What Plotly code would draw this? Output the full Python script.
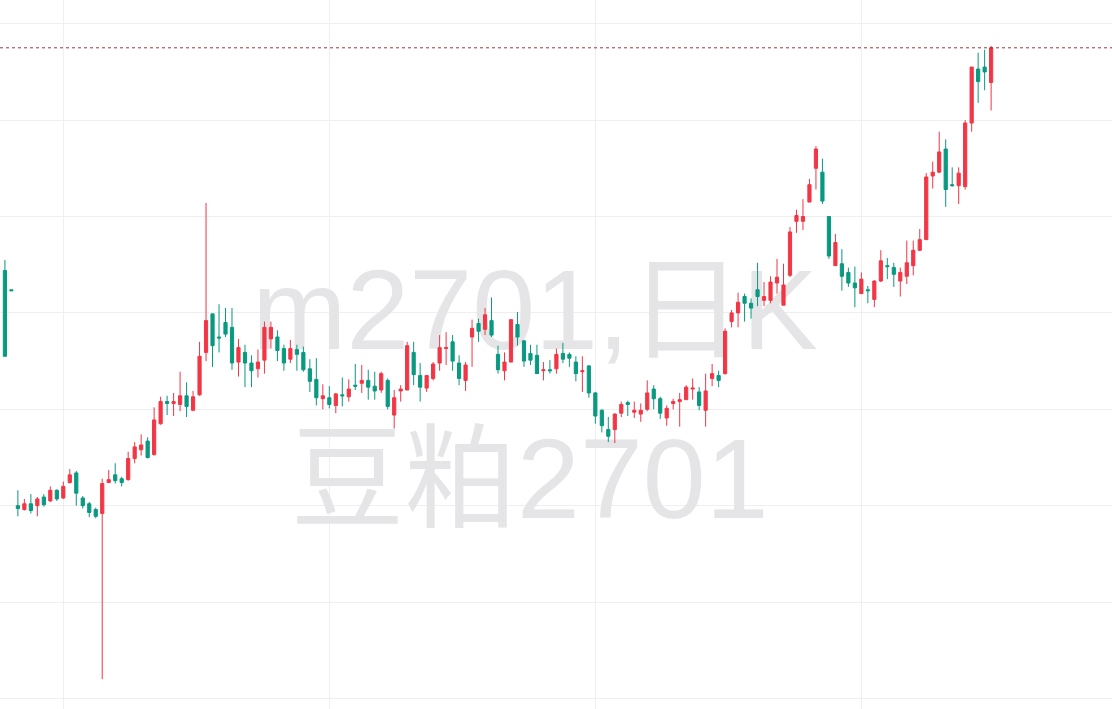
import plotly.graph_objects as go

# ---- data (daily K-line of 豆粕2701) ----
open_ = [3144, 3124, 2900, 2896, 2902, 2900, 2909, 2905, 2916, 2908,
         2924, 2934, 2908, 2902, 2896, 2892, 2924, 2932, 2928, 2927,
         2949, 2958, 2967, 2953, 2985, 3008, 3006, 3005, 3014, 2999,
         3015, 3059, 3099, 3075, 3090, 3085, 3049, 3059, 3048, 3042,
         3051, 3073, 3075, 3063, 3052, 3062, 3059, 3042, 3031, 3011,
         3012, 3004, 3015, 3013, 3025, 3027, 3030, 3024, 3020, 3030,
         2994, 3019, 3020, 3059, 3035, 3022, 3032, 3048, 3063, 3070,
         3048, 3030, 3075, 3089, 3083, 3092, 3057, 3040, 3049, 3088,
         3071, 3058, 3056, 3040, 3041, 3042, 3058, 3057, 3049, 3039,
         3045, 3017, 2999, 2979, 2979, 2996, 3007, 2997, 2995, 3000,
         3021, 3011, 2991, 3006, 3008, 3010, 3021, 3018, 2999, 3032,
         3035, 3037, 3091, 3100, 3117, 3110, 3124, 3113, 3113, 3131,
         3108, 3139, 3195, 3195, 3215, 3250, 3246, 3200, 3149, 3151,
         3142, 3131, 3120, 3124, 3114, 3133, 3149, 3147, 3133, 3138,
         3149, 3165, 3176, 3242, 3246, 3270, 3233, 3232, 3231, 3297,
         3353, 3355, 3339]
high = [3155, 3124, 2916, 2907, 2912, 2909, 2912, 2920, 2917, 2925,
        2938, 2936, 2910, 2904, 2898, 2928, 2937, 2944, 2930, 2956,
        2966, 2974, 2971, 3002, 3013, 3014, 3017, 3039, 3028, 3019,
        3070, 3214, 3099, 3109, 3105, 3105, 3073, 3067, 3056, 3062,
        3091, 3091, 3082, 3067, 3072, 3067, 3065, 3052, 3053, 3026,
        3024, 3017, 3033, 3031, 3047, 3046, 3041, 3039, 3039, 3032,
        3020, 3025, 3070, 3070, 3048, 3035, 3049, 3077, 3080, 3077,
        3056, 3049, 3093, 3094, 3105, 3116, 3066, 3059, 3093, 3101,
        3072, 3067, 3067, 3049, 3051, 3063, 3069, 3059, 3055, 3055,
        3046, 3018, 3000, 2992, 2996, 3008, 3009, 3008, 3006, 3030,
        3025, 3013, 3004, 3011, 3017, 3025, 3032, 3023, 3037, 3047,
        3040, 3084, 3103, 3121, 3120, 3115, 3152, 3132, 3138, 3156,
        3151, 3189, 3207, 3218, 3239, 3273, 3260, 3200, 3182, 3166,
        3147, 3148, 3142, 3128, 3134, 3165, 3157, 3152, 3147, 3175,
        3175, 3187, 3245, 3257, 3288, 3280, 3251, 3251, 3300, 3355,
        3370, 3373, 3377]
low = [3055, 3123, 2889, 2895, 2892, 2889, 2899, 2904, 2905, 2907,
       2923, 2900, 2897, 2888, 2887, 2720, 2924, 2923, 2920, 2926,
       2944, 2952, 2949, 2952, 2984, 2994, 2993, 2998, 2992, 2998,
       3014, 3050, 3044, 3059, 3075, 3041, 3034, 3023, 3023, 3033,
       3037, 3063, 3050, 3040, 3048, 3040, 3039, 3018, 3004, 3000,
       3001, 2996, 3003, 3008, 3020, 3017, 3010, 3010, 3017, 3000,
       2980, 3008, 3020, 3025, 3008, 3018, 3030, 3040, 3046, 3040,
       3025, 3019, 3044, 3070, 3077, 3075, 3037, 3030, 3049, 3066,
       3044, 3046, 3037, 3030, 3037, 3037, 3048, 3044, 3029, 3018,
       3012, 2985, 2976, 2966, 2965, 2992, 2993, 2991, 2987, 2998,
       3000, 2990, 2983, 3000, 2982, 3010, 3010, 2999, 2982, 3024,
       3023, 3036, 3085, 3085, 3091, 3094, 3107, 3107, 3110, 3120,
       3108, 3137, 3183, 3186, 3215, 3228, 3213, 3156, 3149, 3123,
       3127, 3106, 3120, 3110, 3106, 3132, 3135, 3127, 3117, 3130,
       3139, 3164, 3176, 3229, 3245, 3210, 3231, 3213, 3228, 3288,
       3318, 3331, 3310]
close = [3055, 3123, 2897, 2902, 2895, 2907, 2901, 2916, 2907, 2920,
         2932, 2913, 2900, 2893, 2889, 2923, 2927, 2926, 2924, 2949,
         2961, 2963, 2950, 2989, 3008, 3006, 3008, 3014, 3003, 3013,
         3055, 3092, 3066, 3074, 3078, 3048, 3064, 3048, 3040, 3049,
         3085, 3085, 3061, 3048, 3063, 3057, 3041, 3029, 3012, 3014,
         3005, 3016, 3014, 3021, 3024, 3030, 3023, 3019, 3037, 3003,
         3012, 3021, 3066, 3036, 3023, 3035, 3047, 3064, 3064, 3050,
         3032, 3046, 3084, 3081, 3098, 3077, 3041, 3049, 3093, 3075,
         3050, 3051, 3037, 3041, 3040, 3057, 3052, 3053, 3037, 3040,
         3017, 2993, 2983, 2972, 2995, 3005, 3005, 2999, 2999, 3017,
         3011, 2996, 3001, 3008, 3010, 3023, 3022, 3004, 3019, 3037,
         3030, 3081, 3100, 3111, 3110, 3105, 3117, 3117, 3132, 3137,
         3129, 3184, 3201, 3200, 3233, 3270, 3216, 3159, 3173, 3138,
         3131, 3126, 3135, 3123, 3133, 3154, 3148, 3140, 3142, 3152,
         3165, 3176, 3241, 3246, 3267, 3228, 3232, 3245, 3297, 3355,
         3340, 3350, 3375]
days = list(range(len(close)))

watermark_lines = ["m2701,日K", "豆粕2701"]
price_grid = [2700, 2800, 2900, 3000, 3100, 3200, 3300, 3400]
day_grid = [9, 50, 91, 132]

UP = "#F23645"    # red = rising (Chinese convention)
DOWN = "#089981"  # green = falling
X_RANGE = [-0.756, 170.63]
Y_RANGE = [2689.1, 3424.6]

fig = go.Figure()

# watermark on the base subplot (drawn beneath the candles)
fig.add_trace(go.Scatter(
    x=[81.7, 80.9], y=[3092.0, 2917.0], text=watermark_lines,
    mode="text", textposition="middle center",
    textfont=dict(family="Liberation Sans, Arial, 'Noto Sans CJK SC'", size=113, color="#e5e5e7"),
    hoverinfo="skip", showlegend=False, xaxis="x", yaxis="y",
))

# candles on an overlaying subplot so they sit above the watermark
fig.add_trace(go.Candlestick(
    x=days, open=open_, high=high, low=low, close=close,
    increasing=dict(line=dict(color=UP, width=1), fillcolor=UP),
    decreasing=dict(line=dict(color=DOWN, width=1), fillcolor=DOWN),
    showlegend=False, xaxis="x2", yaxis="y2",
))

fig.add_shape(type="line", xref="paper", x0=0, x1=1, yref="y2", y0=close[-1], y1=close[-1],
              line=dict(color="rgba(150,30,40,0.9)", width=1, dash="dot"))

grid = "#efefef"
fig.update_layout(
    width=1112, height=709,
    margin=dict(l=0, r=0, t=0, b=0),
    paper_bgcolor="white", plot_bgcolor="white",
    showlegend=False,
    boxgap=0.3,
    xaxis=dict(range=X_RANGE, tickmode="array", tickvals=day_grid, showticklabels=False,
               showgrid=True, gridcolor=grid, gridwidth=1, zeroline=False, showline=False, ticks=""),
    yaxis=dict(range=Y_RANGE, tickmode="array", tickvals=price_grid, showticklabels=False,
               showgrid=True, gridcolor=grid, gridwidth=1, zeroline=False, showline=False, ticks=""),
    xaxis2=dict(range=X_RANGE, overlaying="x", showgrid=False, showticklabels=False, zeroline=False,
                rangeslider=dict(visible=False), ticks=""),
    yaxis2=dict(range=Y_RANGE, overlaying="y", showgrid=False, showticklabels=False, zeroline=False,
                ticks=""),
)

fig.write_html("out.html", config={"displayModeBar": False},
               post_script="document.body.style.margin='0';document.body.style.overflow='hidden';")
